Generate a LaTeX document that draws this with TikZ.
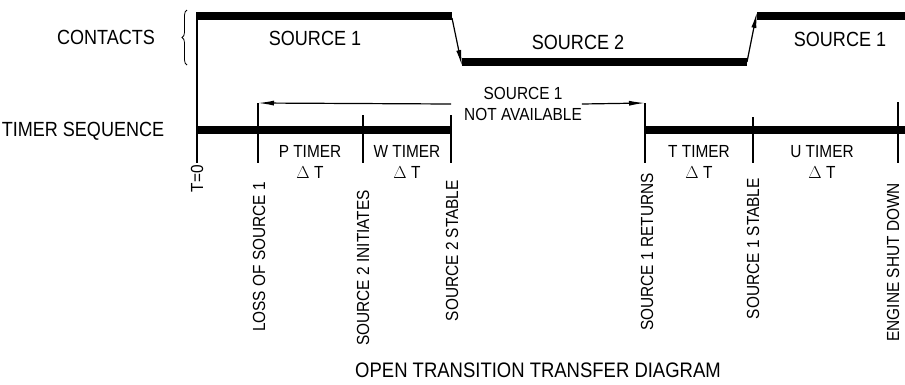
\documentclass[tikz,border=0pt]{standalone}
\usepackage{fontspec}
\setmainfont[FakeStretch=0.88]{Liberation Sans}
\usetikzlibrary{arrows.meta,decorations.pathreplacing}

\begin{document}
\begin{tikzpicture}[x=1pt, y=-1pt, bar/.style={line width=8.5pt}, thin/.style={line width=1.2pt}, flow/.style={thin, -{Latex[length=16pt,width=5pt]}}, big/.style={font=\fontsize{20.5}{24}\selectfont, inner sep=0pt}, small/.style={font=\fontsize{17.5}{20.5}\selectfont, inner sep=0pt, align=center}, event/.style={small, rotate=90, anchor=east}]

	\useasboundingbox (0,0) rectangle (905,384);

	% contact levels
	\coordinate (hi1) at (197,16);
	\coordinate (hi1e) at (452,16);
	\coordinate (lo) at (462,62);
	\coordinate (loe) at (747,62);
	\coordinate (hi2) at (757,16);
	\coordinate (hi2e) at (905,16);

	% timer points (tick tops and bottoms)
	\coordinate (t0top) at (197,12);
	\coordinate (t0) at (197,163);
	\coordinate (losstop) at (258,103);
	\coordinate (loss) at (258,163);
	\coordinate (inittop) at (363,115);
	\coordinate (init) at (363,163);
	\coordinate (stabtwotop) at (451,115);
	\coordinate (stabtwo) at (451,163);
	\coordinate (rettop) at (645,103);
	\coordinate (ret) at (645,163);
	\coordinate (stabonetop) at (753,117);
	\coordinate (stabone) at (753,163);
	\coordinate (shuttop) at (898,102);
	\coordinate (shut) at (898,163);

	% left titles
	\node[big] (contacts) at (106,37) {CONTACTS};
	\node[big] (timer) at (83,131) {TIMER SEQUENCE};
	\draw[thin, line width=0.8pt, decorate, decoration={brace, amplitude=5pt}] (187,65) -- (187,10);

	% contacts
	\draw[bar] (hi1) -- (hi1e);
	\draw[flow] ([yshift=-2]hi1e) -- ([yshift=-4]lo);
	\draw[bar] (lo) -- (loe);
	\draw[flow] (loe) -- ([yshift=4]hi2);
	\draw[bar] (hi2) -- (hi2e);
	\node[big] (s1a) at (315,38) {SOURCE 1};
	\node[big] (s2) at (578,42) {SOURCE 2};
	\node[big] (s1b) at (840,39) {SOURCE 1};

	% timer sequence
	\draw[bar] (197,130) -- (stabtwo |- 0,130);
	\draw[bar] (ret |- 0,130) -- (905,130);
	\draw[thin] (t0top) -- (t0);
	\draw[thin] (losstop) -- (loss);
	\draw[thin] (inittop) -- (init);
	\draw[thin] (stabtwotop) -- (stabtwo);
	\draw[thin] (rettop) -- (ret);
	\draw[thin] (stabonetop) -- (stabone);
	\draw[thin] (shuttop) -- (shut);

	\node[small] (na) at (523,104) {SOURCE 1\\NOT AVAILABLE};
	\draw[flow] ([xshift=-13]na.west) -- (losstop);
	\draw[flow] (na.east) -- (rettop);

	\node[small] (p) at (310,162) {P TIMER\\$\Delta$ T};
	\node[small] (w) at (407,162) {W TIMER\\$\Delta$ T};
	\node[small] (t) at (699,162) {T TIMER\\$\Delta$ T};
	\node[small] (u) at (822,162) {U TIMER\\$\Delta$ T};

	% events
	\node[event] (e0) at (197,165) {T=0};
	\node[event] (e1) at (259,182) {LOSS OF SOURCE 1};
	\node[event] (e2) at (363,190) {SOURCE 2 INITIATES};
	\node[event] (e3) at (452,180) {SOURCE 2 STABLE};
	\node[event] (e4) at (647,173) {SOURCE 1 RETURNS};
	\node[event] (e5) at (753,178) {SOURCE 1 STABLE};
	\node[event] (e6) at (893,183) {ENGINE SHUT DOWN};

	\node[big, font=\fontsize{21}{24}\selectfont] (title) at (538,370) {OPEN TRANSITION TRANSFER DIAGRAM};

\end{tikzpicture}
\end{document}
